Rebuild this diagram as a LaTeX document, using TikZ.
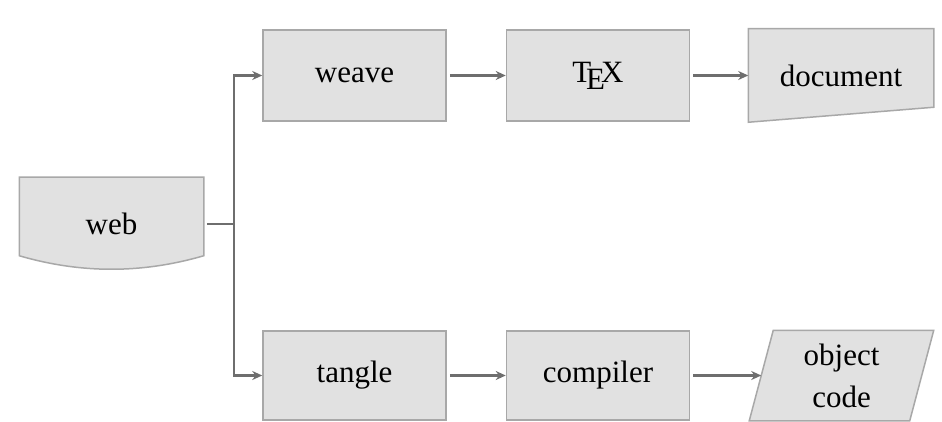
\documentclass[tikz,border=0pt]{standalone}
\usepackage{fontspec}
\setmainfont{Liberation Serif}
\usetikzlibrary{arrows.meta, calc, backgrounds}
\definecolor{boxGray}{RGB}{225, 225, 225}
\definecolor{edgeGray}{RGB}{168, 168, 168}
\definecolor{arrowGray}{RGB}{110, 110, 110}
\tikzset{
    % Base style for the program blocks
    stage/.style={
        rectangle,
        minimum width=91.5pt,
        minimum height=45.5pt,
        inner sep=0pt,
        align=center,
        font=\fontsize{15.5}{21}\selectfont,
        fill=boxGray,
        draw=edgeGray,
        line width=0.75pt
    },
    % Files get their own outline, drawn behind the text
    fileStage/.style={stage, fill=none, draw=none},
    fileOutline/.style={fill=boxGray, draw=edgeGray, line width=0.75pt, line join=miter},
    % Connectors
    link/.style={draw=arrowGray, line width=1.1pt},
    arrow/.style={link, -{Stealth[length=5pt, width=4.5pt]}, shorten <=1.5pt}
}
\begin{document}
\begin{tikzpicture}[x=0.5pt, y=-0.5pt]

    \useasboundingbox (0,0) rectangle (942,422);

    % --- Source file ---
    \node (web) [fileStage, minimum height=46pt] at (111.5,224) {web};

    % --- Upper row (documentation) ---
    \node (weave) [stage] at (354.5,75.5) {weave};
    \node (tex) [stage] at (598,75.5) {\TeX};
    \node (document) [fileStage, minimum width=92pt, minimum height=46pt] at (841,75.5) {document};

    % --- Lower row (program) ---
    \node (tangle) [stage, minimum height=44.5pt] at (354.5,375.5) {tangle};
    \node (compiler) [stage, minimum height=44.5pt] at (598,375.5) {compiler};
    \node (objcode) [fileStage, minimum height=44.5pt] at (841.5,375.5) {object\\code};

    % --- File outlines ---
    \begin{scope}[on background layer]
        \path [fileOutline] ($(web.south west)+(0,-15)$) |- (web.north east)
            -- ($(web.south east)+(0,-15)$)
            .. controls ($(web.south)+(30.5,3)$) and ($(web.south)+(-30.5,3)$) .. ($(web.south west)+(0,-15)$)
            -- cycle;
        \path [fileOutline] (document.south west) |- (document.north east)
            -- ($(document.south east)+(0,-15)$) -- cycle;
        \path [fileOutline] ($(objcode.north west)+(24,0)$) -- (objcode.north east)
            -- ($(objcode.south east)+(-24,0)$) -- (objcode.south west) -- cycle;
    \end{scope}

    % --- Connectors ---
    \coordinate (split) at ($(web.east)+(30,0)$);
    \coordinate (objcodeIn) at ($(objcode.west)+(12,0)$);
    \draw [link] ($(web.east)+(3,0)$) -- (split);
    \draw [arrow, shorten <=0pt] ($(split)+(0,1)$) |- (weave.west);
    \draw [arrow, shorten <=0pt] ($(split)+(0,-1)$) |- (tangle.west);
    \draw [arrow] (weave.east) -- (tex.west);
    \draw [arrow] (tex.east) -- (document.west);
    \draw [arrow] (tangle.east) -- (compiler.west);
    \draw [arrow] (compiler.east) -- (objcodeIn);

\end{tikzpicture}
\end{document}
